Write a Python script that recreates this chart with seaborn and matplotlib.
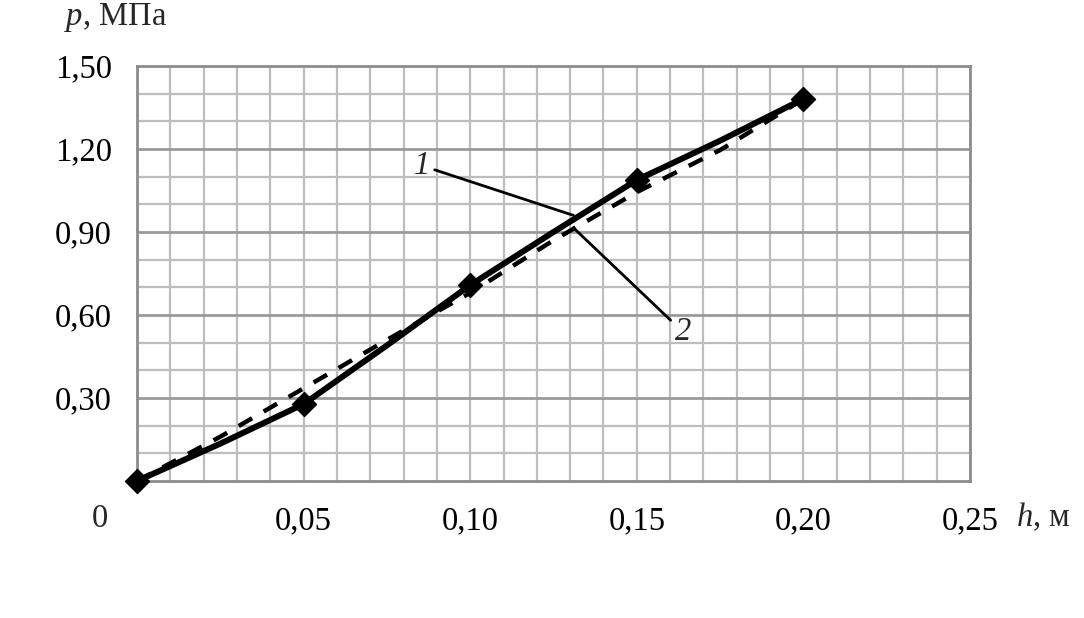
import matplotlib
matplotlib.use("Agg")
import matplotlib.pyplot as plt
import seaborn as sns
import pandas as pd
import numpy as np

# values
h_curve = [0.0, 0.025, 0.05, 0.075, 0.10, 0.125, 0.15, 0.175, 0.20]
p1_curve = [0.0, 0.135, 0.278, 0.49, 0.708, 0.90, 1.088, 1.23, 1.381]
p2_curve = [0.0, 0.16, 0.335, 0.51, 0.68, 0.87, 1.044, 1.196, 1.38]
h_marks = [0.0, 0.05, 0.10, 0.15, 0.20]
p1_marks = [0.0, 0.278, 0.708, 1.088, 1.381]

x_ticks = [0.05, 0.10, 0.15, 0.20, 0.25]
x_labels = ["0,05", "0,10", "0,15", "0,20", "0,25"]
y_ticks = [0.30, 0.60, 0.90, 1.20, 1.50]
y_labels = ["0,30", "0,60", "0,90", "1,20", "1,50"]

sns.set_style("white")
plt.rcParams["font.family"] = ["Liberation Serif", "DejaVu Serif"]
plt.rcParams["mathtext.fontset"] = "custom"
plt.rcParams["mathtext.rm"] = "Liberation Serif"
plt.rcParams["mathtext.it"] = "Liberation Serif:italic"
fs = 23.5

df = pd.DataFrame({"h": h_curve, "p1": p1_curve, "p2": p2_curve})
marks = pd.DataFrame({"h": h_marks, "p": p1_marks})

fig = plt.figure(figsize=(10.84, 6.18), dpi=100)
ax = fig.add_axes([0.1264, 0.2217, 0.7684, 0.6715])

# grid: fine lines every 0.01 / 0.1, darker every 0.3
for x in np.arange(0.01, 0.25, 0.01):
    ax.axvline(x, color="#bdbdbd", lw=1.6, zorder=0)
for y in np.arange(0.1, 1.5, 0.1):
    major = round(y * 10) % 3 == 0
    ax.axhline(y, color="#9a9a9a" if major else "#bdbdbd",
               lw=2.0 if major else 1.6, zorder=0)

sns.lineplot(data=df, x="h", y="p2", ax=ax, color="black", lw=3.2,
             linestyle=(0, (3.5, 3.0)), zorder=3)
sns.lineplot(data=df, x="h", y="p1", ax=ax, color="black", lw=4.3, zorder=4)
sns.scatterplot(data=marks, x="h", y="p", ax=ax, marker="D", s=150,
                color="black", edgecolor="black", zorder=5, clip_on=False)

ax.set_xlim(0, 0.25)
ax.set_ylim(0, 1.5)
ax.set_xticks(x_ticks)
ax.set_xticklabels(x_labels)
ax.set_yticks(y_ticks)
ax.set_yticklabels(y_labels)
ax.tick_params(axis="both", length=0, labelsize=fs, colors="black")
ax.tick_params(axis="x", pad=18)
ax.tick_params(axis="y", pad=18)
ax.set_xlabel("")
ax.set_ylabel("")
for s in ax.spines.values():
    s.set_color("#8c8c8c")
    s.set_linewidth(2.0)

fig.text(100 / 1084, 1 - 519 / 618, "0", fontsize=fs, ha="center", va="center")
# axis names: italic variable + upright unit
fig.text(64 / 1084, 1 - 17 / 618, "$p$, МПа", fontsize=fs, ha="left", va="center")
fig.text(1016 / 1084, 1 - 517 / 618, "$h$, м", fontsize=fs, ha="left", va="center")

# curve labels with leader lines
ax.annotate("1", xy=(0.131, 0.96), xytext=(0.0855, 1.14), fontsize=fs, style="italic",
            ha="center", va="center",
            arrowprops=dict(arrowstyle="-", color="black", lw=2.0, shrinkA=1, shrinkB=0))
ax.annotate("2", xy=(0.131, 0.915), xytext=(0.1639, 0.538), fontsize=fs, style="italic",
            ha="center", va="center",
            arrowprops=dict(arrowstyle="-", color="black", lw=2.0, shrinkA=1, shrinkB=0))

fig.savefig("out.png", dpi=100)
